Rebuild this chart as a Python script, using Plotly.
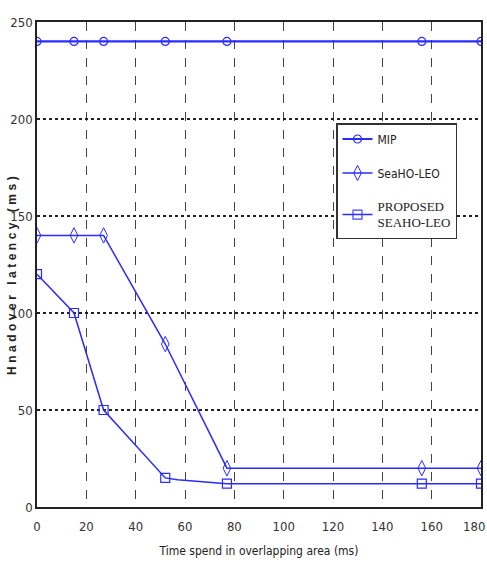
import plotly.graph_objects as go

x_mip = [0, 15, 27, 52, 77, 156, 180]
y_mip = [240, 240, 240, 240, 240, 240, 240]

x_sea = [0, 15, 27, 52, 77, 156, 180]
y_sea = [140, 140, 140, 84, 20, 20, 20]

x_prop = [0, 15, 27, 52, 57, 77, 156, 180]
y_prop = [120, 100, 50, 15, 14, 12, 12, 12]
prop_marker_x = [0, 15, 27, 52, 77, 156, 180]

x_ticks = [0, 20, 40, 60, 80, 100, 120, 140, 160, 180]
x_tick_labels = ["0", "20", "40", "60", "80", "100", "120", "140", "160", "180"]
y_ticks = [0, 50, 100, 150, 200, 250]

blue = "#2b2bff"
narrow = "DejaVu Sans Condensed, Liberation Sans Narrow, Arial"

L, R, T, B = 37, 6, 22, 63
W, H = 487, 570
pw, ph = W - L - R, H - T - B

fig = go.Figure()
fig.add_trace(go.Scatter(
    x=x_mip, y=y_mip, mode="lines+markers", name="MIP", legendgroup="a",
    line=dict(color=blue, width=2.2),
    marker=dict(symbol="circle-open", size=8, color=blue, line=dict(width=1.2))))
fig.add_trace(go.Scatter(
    x=x_sea, y=y_sea, mode="lines+markers", name="SeaHO-LEO", legendgroup="b",
    line=dict(color=blue, width=1.5),
    marker=dict(symbol="diamond-tall-open", size=11, color=blue, line=dict(width=1))))
fig.add_trace(go.Scatter(
    x=x_prop, y=y_prop, mode="lines+markers", legendgroup="c",
    name="<span style=\"font-family:serif;font-size:13px\">PROPOSED<br>SEAHO-LEO</span>",
    line=dict(color=blue, width=1.5),
    marker=dict(symbol="square-open", size=9, color=blue, line=dict(width=1.2),
                opacity=[1 if v in prop_marker_x and i != 4 else 0 for i, v in enumerate(x_prop)])))

tickfont = dict(family=narrow, size=13, color="#333")

# last x tick label sits at the right edge of the image: draw it right-aligned
edge_label = dict(
    text=x_tick_labels[-1], x=x_ticks[-1], xref="x", y=0, yref="paper",
    xanchor="right", yanchor="middle", xshift=R, yshift=-19,
    showarrow=False, font=tickfont)

fig.update_layout(
    width=W, height=H,
    margin=dict(l=L, r=R, t=T, b=B, autoexpand=False),
    paper_bgcolor="white", plot_bgcolor="white",
    font=dict(family=narrow, size=12, color="#222"),
    showlegend=True,
    legend=dict(
        x=(336 - L) / pw, y=(H - B - 123) / ph, xanchor="left", yanchor="top",
        bgcolor="white", bordercolor="#333", borderwidth=1.5,
        font=dict(family=narrow, size=12, color="#222"),
        tracegroupgap=15, itemwidth=30,
    ),
    xaxis=dict(
        range=[0, 180.001], tickvals=x_ticks, ticktext=x_tick_labels[:-1] + [""],
        ticks="", automargin=False,
        ticklabeloverflow="allow", ticklabelstandoff=6,
        showgrid=True, gridcolor="#444", griddash="dash", gridwidth=1,
        showline=True, linecolor="#222", linewidth=2, mirror=True,
        zeroline=False, tickfont=tickfont,
        title=dict(text="Time spend in overlapping area (ms)", standoff=14,
                   font=dict(family=narrow, size=12, color="#222")),
    ),
    yaxis=dict(
        range=[0, 250.001], tickvals=y_ticks, ticks="", automargin=False,
        ticklabeloverflow="allow",
        showgrid=True, gridcolor="#222", griddash="dot", gridwidth=1.5,
        showline=True, linecolor="#222", linewidth=1.5, mirror=True,
        zeroline=False, tickfont=tickfont,
    ),
    annotations=[dict(
        text="<span style=\"letter-spacing:3.5px\"><b>Hnadover latency (ms)</b></span>",
        textangle=-90, showarrow=False,
        xref="paper", yref="paper", x=(12 - L) / pw, y=(H - B - 274) / ph,
        xanchor="center", yanchor="middle",
        font=dict(family="Liberation Sans, Arial", size=12, color="#222")),
        edge_label],
)

fig.write_html("out.html", config={"displayModeBar": False},
               post_script="document.body.style.margin='0';")
